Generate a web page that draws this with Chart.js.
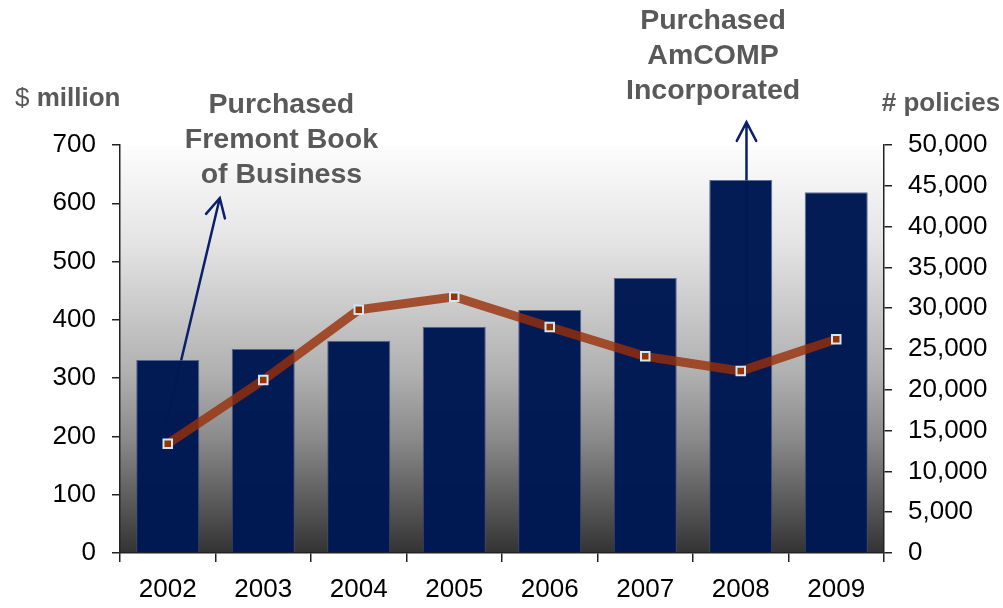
<!DOCTYPE html>
<html>
<head>
<meta charset="utf-8">
<script src="https://cdn.jsdelivr.net/npm/chart.js@4.4.1/dist/chart.umd.min.js"></script>
<style>
  html, body { margin: 0; padding: 0; background: #fff; }
  #wrap { width: 1003px; height: 608px; position: relative; }
</style>
</head>
<body>
<div id="wrap"><canvas id="chart"></canvas></div>
<script>
// gross premiums written ($ million) and policies in force, by year
const years = ['2002', '2003', '2004', '2005', '2006', '2007', '2008', '2009'];
const premiums = [331, 350, 364, 388, 417, 472, 640, 619];
const policies = [13400, 21200, 29800, 31400, 27700, 24100, 22300, 26200];

const premiumTicks = [0, 100, 200, 300, 400, 500, 600, 700];
const policyTicks = [0, 5000, 10000, 15000, 20000, 25000, 30000, 35000, 40000, 45000, 50000];

// callouts: text anchor, arrow tail and head, in (category index, $ million)
const notes = [
  { lines: ['Purchased', 'Fremont Book', 'of Business'], textAt: [1.19, 768], from: [-0.02, 220], to: [0.545, 609] },
  { lines: ['Purchased', 'AmCOMP', 'Incorporated'], textAt: [5.71, 912], from: [6.06, 336], to: [6.06, 739] }
];

const FONT = "'Liberation Sans', Arial, sans-serif";
const GREY = '#595959';

const backdrop = {
  id: 'backdrop',
  beforeDraw(chart) {
    const { ctx, chartArea: a } = chart;
    const g = ctx.createLinearGradient(0, a.top, 0, a.bottom);
    g.addColorStop(0, '#fdfdfd');
    g.addColorStop(0.24, '#e4e4e4');
    g.addColorStop(0.56, '#b0b0b0');
    g.addColorStop(0.72, '#8a8a8a');
    g.addColorStop(0.89, '#555555');
    g.addColorStop(1, '#333333');
    ctx.save();
    ctx.fillStyle = g;
    ctx.fillRect(a.left, a.top, a.right - a.left, a.bottom - a.top);
    ctx.restore();
  }
};

// arrows sit behind the bars, so they go in before the datasets
const callouts = {
  id: 'callouts',
  beforeDatasetsDraw(chart) {
    const { ctx, scales: { x, y } } = chart;
    ctx.save();
    ctx.strokeStyle = '#0b1f6b';
    ctx.lineWidth = 2.5;
    ctx.lineCap = 'round';
    notes.forEach((n) => {
      const x0 = x.getPixelForValue(n.from[0]);
      const y0 = y.getPixelForValue(n.from[1]);
      const x1 = x.getPixelForValue(n.to[0]);
      const y1 = y.getPixelForValue(n.to[1]);
      const ang = Math.atan2(y1 - y0, x1 - x0);
      const len = 21;
      const spread = 0.48;
      ctx.beginPath();
      ctx.moveTo(x0, y0);
      ctx.lineTo(x1, y1);
      ctx.moveTo(x1 - len * Math.cos(ang - spread), y1 - len * Math.sin(ang - spread));
      ctx.lineTo(x1, y1);
      ctx.lineTo(x1 - len * Math.cos(ang + spread), y1 - len * Math.sin(ang + spread));
      ctx.stroke();
    });
    ctx.restore();
  },
  afterDraw(chart) {
    const { ctx, scales: { x, y } } = chart;
    ctx.save();
    ctx.fillStyle = GREY;
    ctx.textAlign = 'center';
    ctx.textBaseline = 'middle';
    ctx.font = `bold 28.5px ${FONT}`;
    notes.forEach((n) => {
      const cx = x.getPixelForValue(n.textAt[0]);
      const cy = y.getPixelForValue(n.textAt[1]);
      n.lines.forEach((line, i) => ctx.fillText(line, cx, cy + i * 35));
    });

    // axis titles
    ctx.textAlign = 'left';
    ctx.font = `26px ${FONT}`;
    ctx.fillText('$', 15, 99);
    const w = ctx.measureText('$ ').width;
    ctx.font = `bold 26px ${FONT}`;
    ctx.fillText('million', 15 + w, 99);
    ctx.textAlign = 'center';
    ctx.fillText('# policies', 941, 104);
    ctx.restore();
  }
};

new Chart(document.getElementById('chart'), {
  data: {
    labels: years,
    datasets: [
      {
        type: 'line',
        label: 'Policies',
        data: policies,
        yAxisID: 'y1',
        order: 0,
        borderColor: 'rgba(152, 46, 6, 0.8)',
        borderWidth: 9,
        tension: 0,
        pointStyle: 'rect',
        pointRadius: 6,
        pointBackgroundColor: '#993300',
        pointBorderColor: '#cfe8f7',
        pointBorderWidth: 2
      },
      {
        type: 'bar',
        label: 'Premiums',
        data: premiums,
        yAxisID: 'y',
        order: 1,
        backgroundColor: 'rgba(0, 24, 82, 0.985)',
        borderColor: 'rgba(60, 80, 130, 0.8)',
        borderWidth: 1,
        categoryPercentage: 1,
        barPercentage: 0.66
      }
    ]
  },
  options: {
    responsive: true,
    maintainAspectRatio: false,
    animation: false,
    layout: { padding: { top: 145, left: 0, right: 0, bottom: 0 } },
    plugins: {
      legend: { display: false },
      tooltip: { enabled: false }
    },
    scales: {
      x: {
        grid: { offset: true, drawOnChartArea: false, tickLength: 9, color: '#222', lineWidth: 1.5 },
        border: { color: '#222', width: 1.5 },
        ticks: { color: '#000', font: { family: FONT, size: 26 }, padding: 12 },
        afterFit(s) { s.height = 55; }
      },
      y: {
        position: 'left',
        min: premiumTicks[0],
        max: premiumTicks[premiumTicks.length - 1],
        afterBuildTicks(s) { s.ticks = premiumTicks.map((v) => ({ value: v })); },
        grid: { drawOnChartArea: false, tickLength: 8, color: '#222', lineWidth: 1.5 },
        border: { color: '#222', width: 1.5 },
        ticks: { color: '#000', font: { family: FONT, size: 26 }, padding: 16 },
        afterFit(s) { s.width = 120; }
      },
      y1: {
        position: 'right',
        min: policyTicks[0],
        max: policyTicks[policyTicks.length - 1],
        afterBuildTicks(s) { s.ticks = policyTicks.map((v) => ({ value: v })); },
        grid: { drawOnChartArea: false, tickLength: 8, color: '#222', lineWidth: 1.5 },
        border: { color: '#222', width: 1.5 },
        ticks: {
          color: '#000',
          font: { family: FONT, size: 26 },
          padding: 16,
          callback: (v) => v.toLocaleString('en-US')
        },
        afterFit(s) { s.width = 119; }
      }
    }
  },
  plugins: [backdrop, callouts]
});
</script>
</body>
</html>
